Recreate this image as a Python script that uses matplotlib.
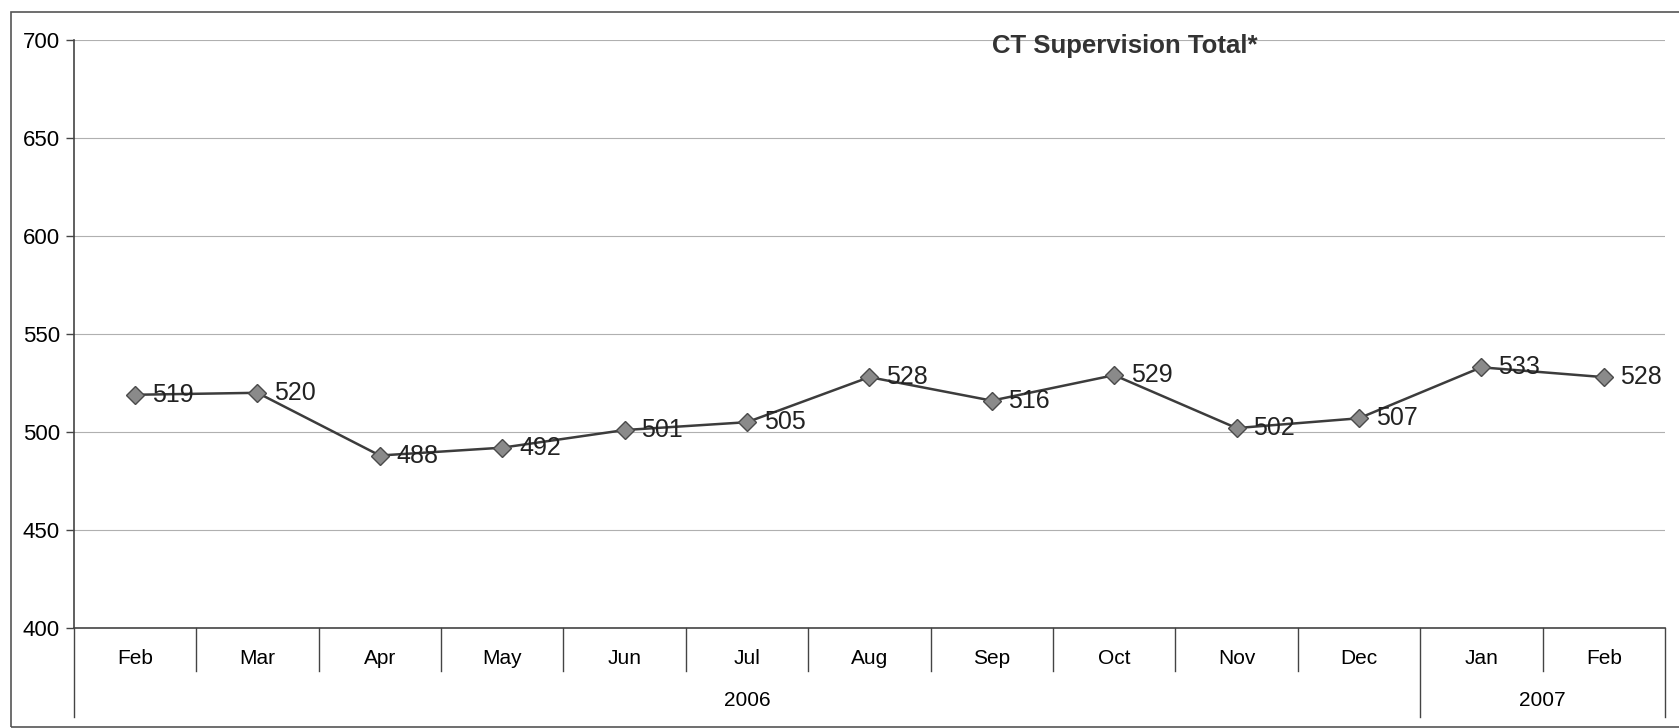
import matplotlib
matplotlib.use('Agg')
import matplotlib.pyplot as plt
from matplotlib.patches import Rectangle
import matplotlib.transforms as mtransforms

plt.rcParams['font.family'] = ['Liberation Sans', 'DejaVu Sans']

# data
months = ['Feb', 'Mar', 'Apr', 'May', 'Jun', 'Jul', 'Aug', 'Sep', 'Oct', 'Nov', 'Dec', 'Jan', 'Feb']
years = ['2006'] * 11 + ['2007'] * 2
totals = [519, 520, 488, 492, 501, 505, 528, 516, 529, 502, 507, 533, 528]
yticks = [400, 450, 500, 550, 600, 650, 700]

fig = plt.figure(figsize=(16.79, 7.28), dpi=100)
ax = fig.add_axes([0.044, 0.1374, 0.9476, 0.8076])

x = list(range(len(months)))
ax.plot(x, totals, color='#3c3c3c', lw=1.8, marker='D', ms=9.5,
        mfc='#8a8a8a', mec='#4a4a4a', mew=1, zorder=3)
for xi, v in zip(x, totals):
    ax.annotate(str(v), (xi, v), xytext=(12, 0), textcoords='offset points',
                ha='left', va='center', fontsize=18, color='#222222', zorder=4)

ax.set_xlim(-0.5, len(months) - 0.5)
ax.set_ylim(yticks[0], yticks[-1])
ax.set_yticks(yticks)
ax.tick_params(axis='y', labelsize=16, length=6, width=1, color='#444444', pad=4)
ax.yaxis.grid(True, color='#b0b0b0', lw=0.8)
ax.set_axisbelow(True)
for s in ['top', 'right']:
    ax.spines[s].set_visible(False)
for s in ['left', 'bottom']:
    ax.spines[s].set_color('#444444')
    ax.spines[s].set_linewidth(1.2)

# month labels and separators
ax.set_xticks(x)
ax.set_xticklabels(months, fontsize=15)
ax.tick_params(axis='x', length=0, pad=15)
trans = mtransforms.blended_transform_factory(ax.transData, ax.transAxes)
month_depth = -0.074
year_depth = -0.152
for i in range(len(months) + 1):
    xb = i - 0.5
    is_year_edge = i == 0 or i == len(months) or years[i] != years[i - 1]
    depth = year_depth if is_year_edge else month_depth
    ax.plot([xb, xb], [0, depth], transform=trans, color='#444444', lw=1, clip_on=False)

# year labels
start = 0
for i in range(1, len(years) + 1):
    if i == len(years) or years[i] != years[start]:
        ax.text((start + i - 1) / 2, -0.123, years[start], transform=trans,
                ha='center', va='center', fontsize=15)
        start = i

fig.text(0.670, 0.937, 'CT Supervision Total*', ha='center', va='center',
         fontsize=18.5, fontweight='bold', color='#333333')

# outer border of the scanned chart
fig.patches.append(Rectangle((0.0065, 0.002), 0.995, 0.981, transform=fig.transFigure,
                             fill=False, ec='#555555', lw=1.2))

fig.savefig('out.png', dpi=100)
